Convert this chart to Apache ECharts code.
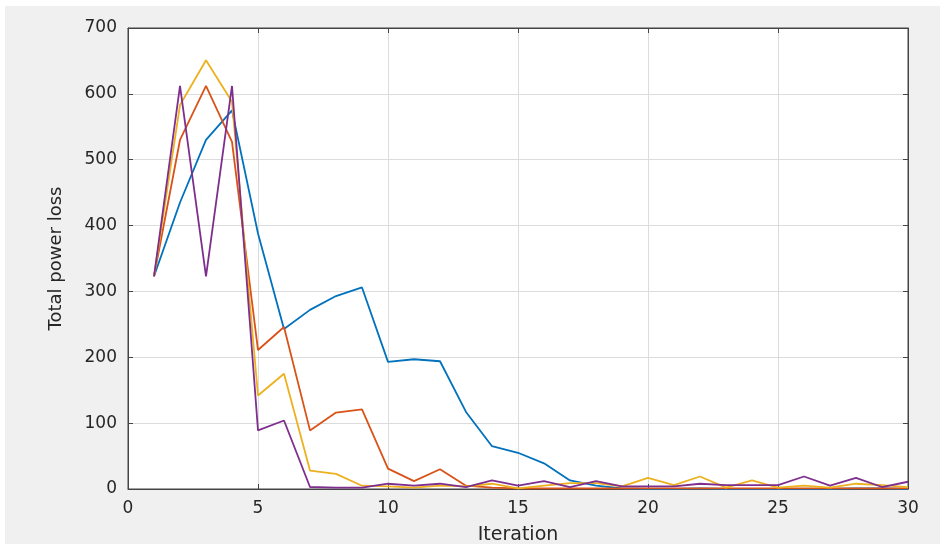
<!DOCTYPE html>
<html>
<head>
<meta charset="utf-8">
<script src="https://cdn.jsdelivr.net/npm/echarts@6/dist/echarts.min.js"></script>
<style>
html,body{margin:0;padding:0;background:#fff;}
#c{position:absolute;left:5px;top:6px;width:935px;height:538px;}
</style>
</head>
<body>
<div id="c"></div>
<script>
var iterations = [1,2,3,4,5,6,7,8,9,10,11,12,13,14,15,16,17,18,19,20,21,22,23,24,25,26,27,28,29,30];
var seriesBlue   = [323,435,530,575,388,243,272,293,306,193,197,194,117,65,55,39,13,5,1,0,0,1,0,0,0,0,0,1,1,0];
var seriesOrange = [323,530,612,527,211,246,89,116,121,31,12,30,5,2,1,1,1,1,1,1,1,1,1,1,1,1,1,1,1,1];
var seriesYellow = [323,583,651,588,142,175,28,23,5,4,2,5,4,8,1,5,9,9,4,17,6,19,2,13,2,5,2,8,6,3];
var seriesPurple = [323,612,323,612,89,104,3,2,2,8,5,8,3,13,5,12,3,12,4,4,4,8,6,6,6,19,5,17,3,11];
var yTicks = [0,100,200,300,400,500,600,700];
var xTicks = [0,5,10,15,20,25,30];

var chart = echarts.init(document.getElementById('c'));
var font = 'DejaVu Sans';
var textColor = '#262626';
function mk(name, data, color){
  return {
    name: name, type: 'line', xAxisIndex: 0, yAxisIndex: 0,
    data: data.map(function(v,i){return [iterations[i], v];}),
    showSymbol: false, symbol: 'none',
    lineStyle: {color: color, width: 1.8},
    itemStyle: {color: color},
    animation: false
  };
}
chart.setOption({
  backgroundColor: '#f0f0f0',
  animation: false,
  grid: {left: 123, top: 22, right: 32, bottom: 55, show: true, backgroundColor: '#ffffff', borderColor: '#444', borderWidth: 1, containLabel: false, outerBoundsMode: 'none'},
  xAxis: [{
    type: 'value', min: 0, max: 30, interval: 5,
    name: 'Iteration', nameLocation: 'middle', nameGap: 37,
    nameTextStyle: {fontFamily: font, fontSize: 19, color: textColor},
    axisLine: {show: true, onZero: false, lineStyle: {color: '#444', width: 1}},
    axisTick: {show: true, inside: true, length: 5, lineStyle: {color: '#444'}},
    axisLabel: {fontFamily: font, fontSize: 17, color: textColor, margin: 11},
    splitLine: {show: true, lineStyle: {color: '#dcdcdc', width: 1}}
  },{
    type: 'value', min: 0, max: 30, interval: 5, position: 'top',
    axisLine: {show: true, onZero: false, lineStyle: {color: '#444', width: 1}},
    axisTick: {show: true, inside: true, length: 5, lineStyle: {color: '#444'}},
    axisLabel: {show: false}, splitLine: {show: false}
  }],
  yAxis: [{
    type: 'value', min: 0, max: 700, interval: 100,
    name: 'Total power loss', nameLocation: 'middle', nameGap: 63, nameRotate: 90,
    nameTextStyle: {fontFamily: font, fontSize: 18, color: textColor},
    axisLine: {show: true, onZero: false, lineStyle: {color: '#444', width: 1}},
    axisTick: {show: true, inside: true, length: 5, lineStyle: {color: '#444'}},
    axisLabel: {fontFamily: font, fontSize: 17, color: textColor, margin: 11},
    splitLine: {show: true, lineStyle: {color: '#dcdcdc', width: 1}}
  },{
    type: 'value', min: 0, max: 700, interval: 100, position: 'right',
    axisLine: {show: true, onZero: false, lineStyle: {color: '#444', width: 1}},
    axisTick: {show: true, inside: true, length: 5, lineStyle: {color: '#444'}},
    axisLabel: {show: false}, splitLine: {show: false}
  }],
  series: [
    mk('Run 1', seriesBlue, '#0072BD'),
    mk('Run 2', seriesOrange, '#D95319'),
    mk('Run 3', seriesYellow, '#EDB120'),
    mk('Run 4', seriesPurple, '#7E2F8E')
  ]
});
</script>
</body>
</html>
